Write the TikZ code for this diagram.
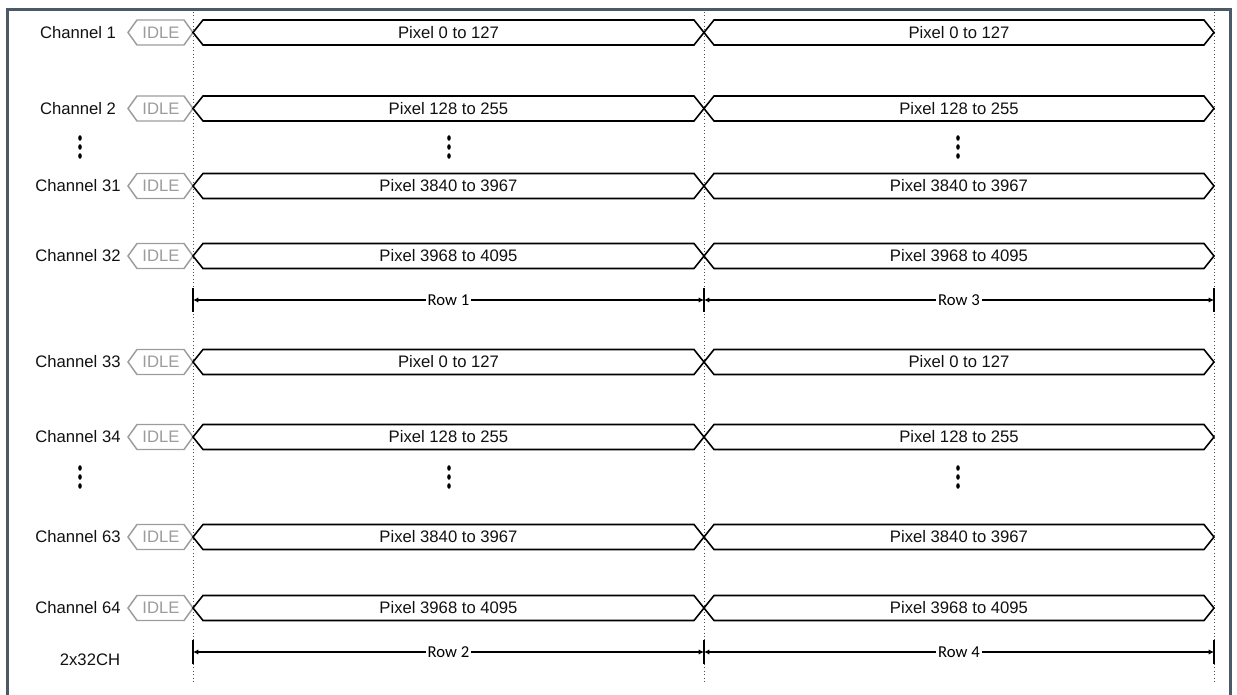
\documentclass[tikz,border=0pt]{standalone}
\usepackage{fontspec}
\setmainfont{Liberation Sans}
\newfontfamily\rowfont{Carlito}
\usepackage{tikz}
\usepackage{xcolor}
\usetikzlibrary{
  positioning, arrows.meta, calc,
}
\definecolor{cFrame}{HTML}{4B5A66}
\definecolor{cText} {HTML}{111111}
\definecolor{cIdle} {HTML}{9C9C9C}
\definecolor{cGuide}{HTML}{505050}

\begin{document}
\begin{tikzpicture}[x=0.75pt, y=-0.75pt,
    lbl/.style={font=\fontsize{12.5}{14}\selectfont, text=cText, inner sep=0pt},
    idlebox/.style={draw=cIdle, line width=1.1pt, line join=miter},
    busbox/.style={draw=black, line width=1.2pt, line join=miter},
    guide/.style={draw=cGuide, dotted, line width=0.6pt},
    tickbar/.style={draw=black, line width=1.5pt},
    dimline/.style={draw=black, line width=0.8pt, {Latex[length=4pt, width=4pt]}-{Latex[length=4pt, width=4pt]}},
    rowlbl/.style={font=\rowfont\fontsize{12.5}{14}\selectfont, fill=white, inner sep=1.5pt},
  ]
        \useasboundingbox (0,0) rectangle (1237,695);
        % frame
        \draw[cFrame, line width=2.3pt] (7.5,700) -- (7.5,9.5) -- (1230.5,9.5) -- (1230.5,700);
        % guides
        \foreach \x/\g in {193/a, 704/b, 1214/c}{
          \coordinate (gtop\g) at (\x, 12);
          \coordinate (gbot\g) at (\x, 683);
          \draw[guide] (gtop\g) -- (gbot\g);
        }
        % channel rows
        \foreach \y/\ch/\px in {32.5/1/0 to 127, 108.5/2/128 to 255, 186/31/3840 to 3967,
                                256/32/3968 to 4095, 362/33/0 to 127, 437/34/128 to 255,
                                537/63/3840 to 3967, 608/64/3968 to 4095}{
          \node[lbl] (ch\ch) at (78, \y) {Channel \ch};
          \draw[idlebox] (128,\y) -- (137,\y-12.5) -- (184,\y-12.5) -- (193,\y)
                -- (184,\y+12.5) -- (137,\y+12.5) -- cycle;
          \node[lbl, text=cIdle] (idle\ch) at (161, \y) {IDLE};
          \draw[busbox] (193,\y) -- (203,\y-12.5) -- (694,\y-12.5) -- (704,\y)
                -- (694,\y+12.5) -- (203,\y+12.5) -- cycle;
          \draw[busbox] (704,\y) -- (714,\y-12.5) -- (1204,\y-12.5) -- (1214,\y)
                -- (1204,\y+12.5) -- (714,\y+12.5) -- cycle;
          \node[lbl] (pa\ch) at (448.5, \y) {Pixel \px};
          \node[lbl] (pb\ch) at (959, \y) {Pixel \px};
        }
        % vertical dots
        \foreach \x in {80, 449, 958}{
          \foreach \y in {147, 477}{
            \foreach \d in {-9, 0, 9}{
              \fill[black] (\x, \y+\d) ellipse [x radius=1.35pt, y radius=2.1pt];
            }
          }
        }
        % row spans
        \foreach \yd/\r/\la/\lb in {300/1/Row 1/Row 3, 652/2/Row 2/Row 4}{
          \coordinate (d\r-a) at (193, \yd);
          \coordinate (d\r-b) at (704, \yd);
          \coordinate (d\r-c) at (1214, \yd);
          \foreach \g in {a, b, c}{
            \draw[tickbar] ($(d\r-\g)+(0,-12)$) -- ($(d\r-\g)+(0,12)$);
          }
          \draw[dimline] (d\r-a) -- node[rowlbl] (row\r a) {\la} (d\r-b);
          \draw[dimline] (d\r-b) -- node[rowlbl] (row\r b) {\lb} (d\r-c);
        }
        \node[lbl] (mode) at (90, 660) {2x32CH};
\end{tikzpicture}
\end{document}
